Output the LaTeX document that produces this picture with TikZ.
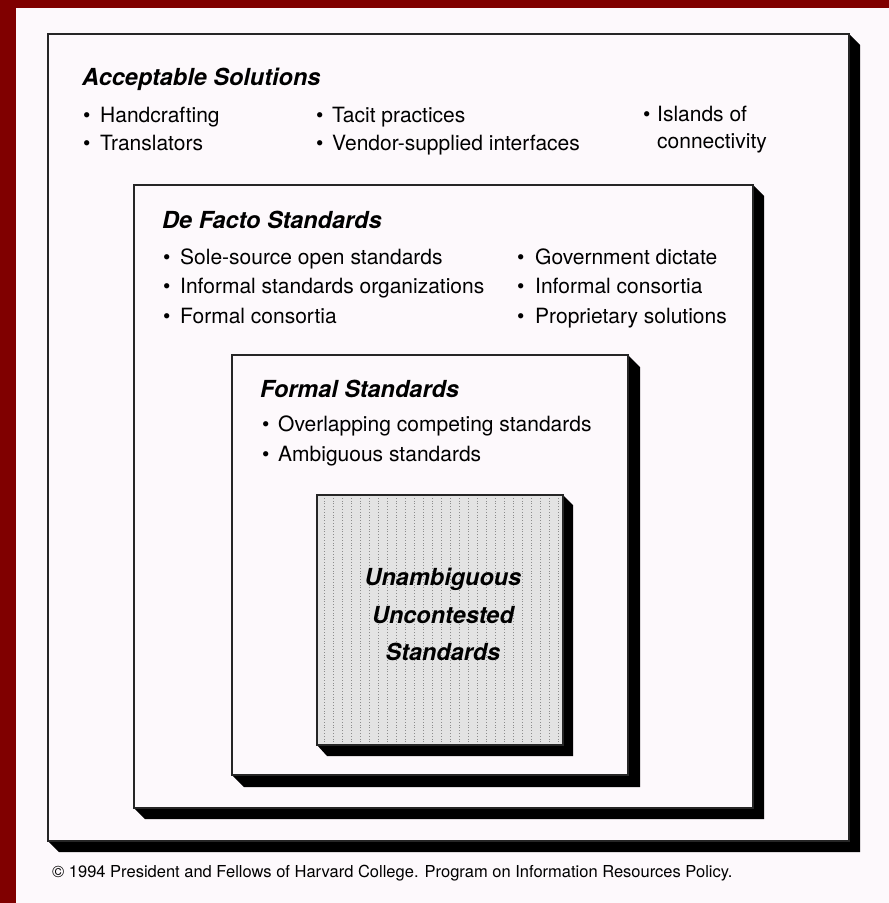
\documentclass[tikz,border=0pt]{standalone}
\usepackage{fontspec}
\setmainfont{TeX Gyre Heros}
\definecolor{maroonbar}{RGB}{128,0,0}
\definecolor{paper}{RGB}{253,249,252}
\begin{document}
\begin{tikzpicture}[x=1pt,y=-1pt,
  ttl/.style={anchor=base west, inner sep=0pt, font=\fontsize{23.5}{28}\selectfont\bfseries\itshape},
  itm/.style={anchor=base west, inner sep=0pt, font=\fontsize{21}{25}\selectfont},
  cen/.style={anchor=base, inner sep=0pt, font=\fontsize{23.5}{28}\selectfont\bfseries\itshape},
  note/.style={anchor=base west, inner sep=0pt, font=\fontsize{16.5}{20}\selectfont},
  face/.style={fill=paper, draw=black!85, line width=1.6pt},
  shadowfill/.style={fill=black}]
\useasboundingbox (0,0) rectangle (889,903);
\fill[paper] (0,0) rectangle (889,903);
\fill[maroonbar] (0,0) rectangle (889,8);
\fill[maroonbar] (0,0) rectangle (16,903);

% outer box: Acceptable Solutions
\fill[shadowfill] (849,34) -- (860,45) -- (860,852) -- (59,852) -- (48,841) -- (849,841) -- cycle;
\draw[face] (48,34) rectangle (849,841);

% De Facto box
\fill[shadowfill] (753,185) -- (764,196) -- (764,819) -- (145,819) -- (134,808) -- (753,808) -- cycle;
\draw[face] (134,185) rectangle (753,808);

% Formal box
\fill[shadowfill] (628,355) -- (640,367) -- (640,787) -- (244,787) -- (232,775) -- (628,775) -- cycle;
\draw[face] (232,355) rectangle (628,775);

% Core box
\fill[shadowfill] (563,495) -- (573,505) -- (573,756) -- (327,756) -- (317,745) -- (563,745) -- cycle;
\fill[black!11] (317,495) rectangle (563,745);
\draw[step=9, black!45, line width=0.8pt, dotted] (317,495) grid (563,745);
\draw[draw=black!85, line width=1.6pt] (317,495) rectangle (563,745);

% texts
\node[ttl] (as) at (82,85) {Acceptable Solutions};
\node[itm] (b1) at (83,122) {\textbullet};
\node[itm] (hc) at (100,122) {Handcrafting};
\node[itm] (b2) at (83,150) {\textbullet};
\node[itm] (tr) at (100,150) {Translators};
\node[itm] (b3) at (316,122) {\textbullet};
\node[itm] (tp) at (332,122) {Tacit practices};
\node[itm] (b4) at (316,150) {\textbullet};
\node[itm] (vs) at (332,150) {Vendor-supplied interfaces};
\node[itm] (b5) at (643,121) {\textbullet};
\node[itm] (il) at (657,121) {Islands of};
\node[itm] (cn) at (657,148) {connectivity};

\node[ttl] (df) at (162,228) {De Facto Standards};
\node[itm] (c1) at (163,264) {\textbullet};
\node[itm] (ss) at (180,264) {Sole-source open standards};
\node[itm] (c2) at (163,293) {\textbullet};
\node[itm] (iso) at (180,293) {Informal standards organizations};
\node[itm] (c3) at (163,323) {\textbullet};
\node[itm] (fc) at (180,323) {Formal consortia};
\node[itm] (c4) at (517,264) {\textbullet};
\node[itm] (gd) at (535,264) {Government dictate};
\node[itm] (c5) at (517,293) {\textbullet};
\node[itm] (ic) at (535,293) {Informal consortia};
\node[itm] (c6) at (517,323) {\textbullet};
\node[itm] (ps) at (535,323) {Proprietary solutions};

\node[ttl] (fs) at (260,397) {Formal Standards};
\node[itm] (d1) at (262,431) {\textbullet};
\node[itm] (oc) at (278,431) {Overlapping competing standards};
\node[itm] (d2) at (262,461) {\textbullet};
\node[itm] (am) at (278,461) {Ambiguous standards};

\node[cen] (u1) at (443,585) {Unambiguous};
\node[cen] (u2) at (443,623) {Uncontested};
\node[cen] (u3) at (443,660) {Standards};

\node[note] (cp) at (52,877) {© 1994 President and Fellows of Harvard College. Program on Information Resources Policy.};
\end{tikzpicture}
\end{document}
